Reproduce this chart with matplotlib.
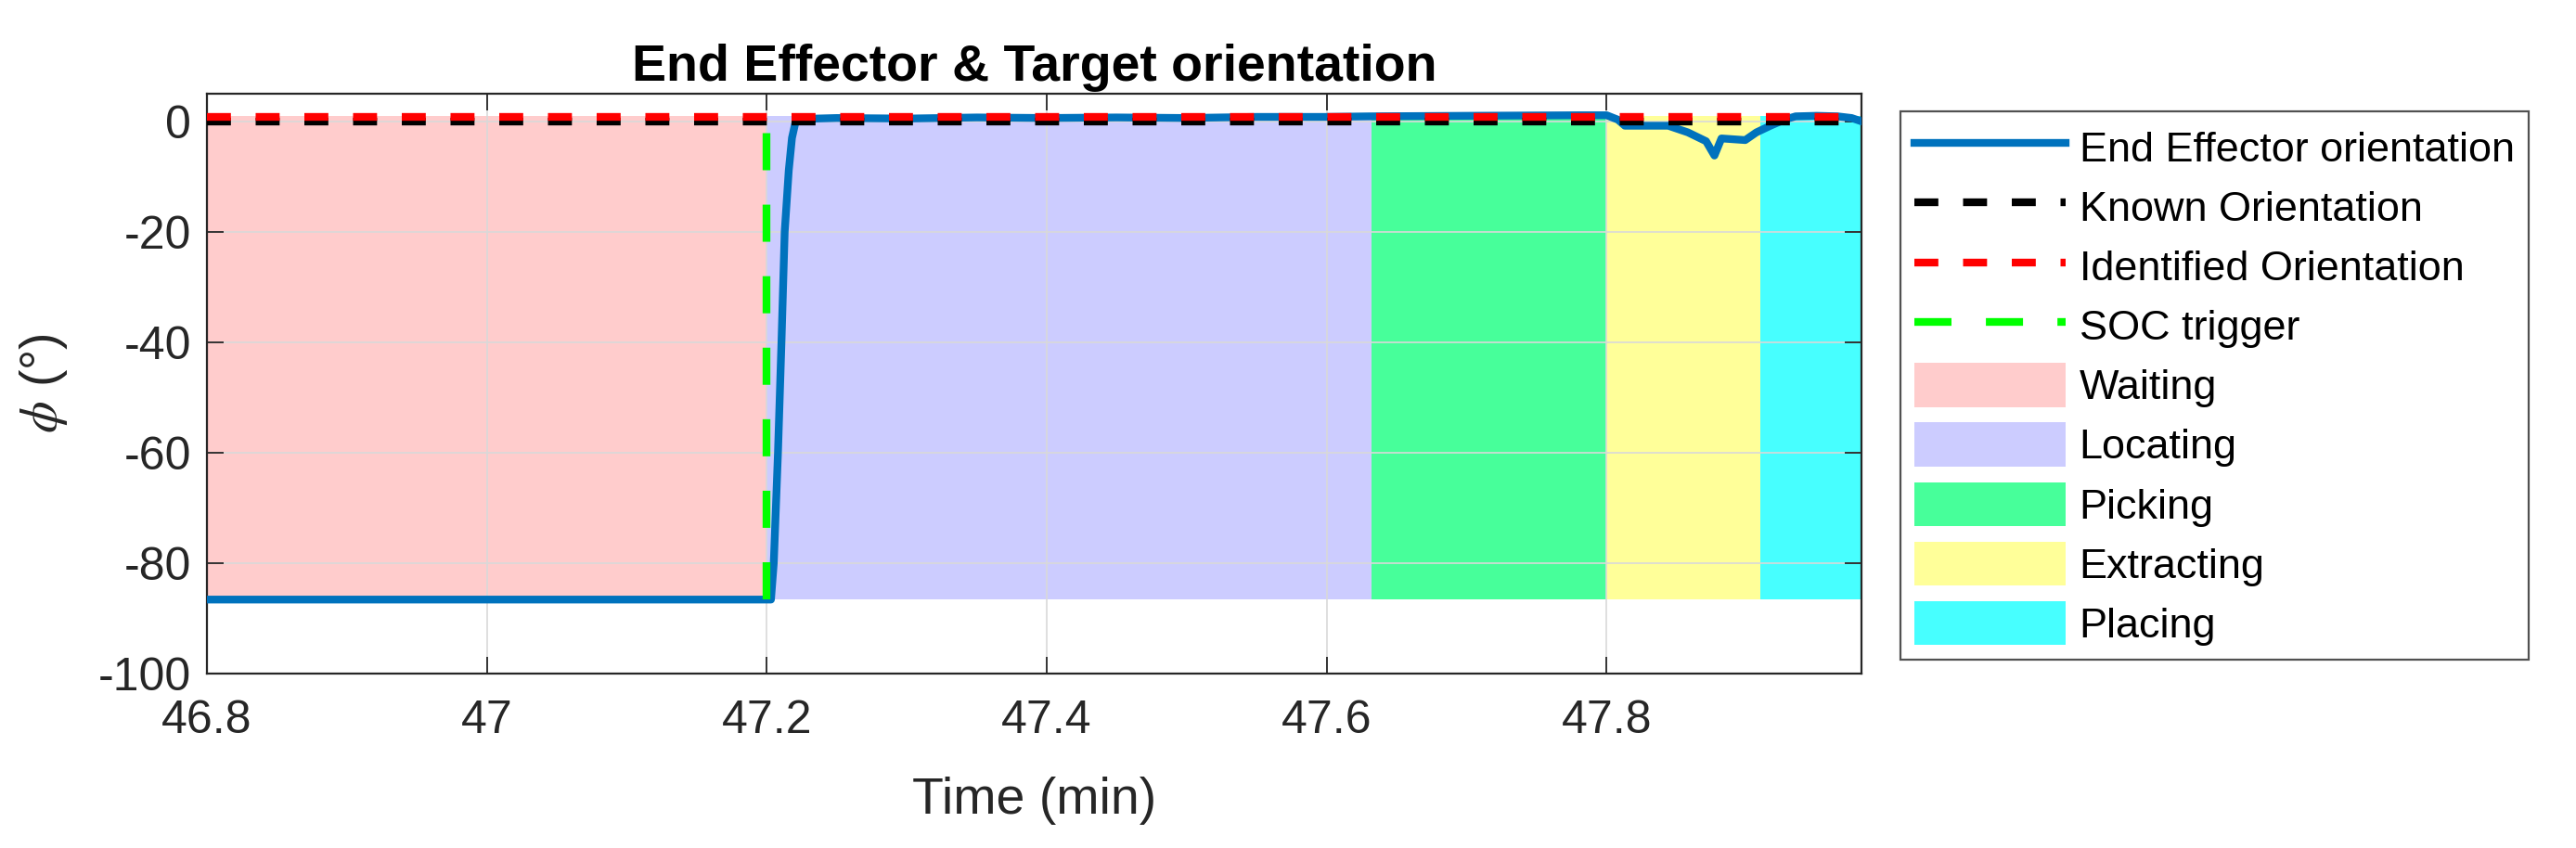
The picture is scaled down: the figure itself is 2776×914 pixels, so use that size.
import numpy as np
import matplotlib
matplotlib.use("Agg")
import matplotlib.pyplot as plt
from matplotlib.patches import Patch
from matplotlib.lines import Line2D

plt.rcParams['font.family'] = ['Liberation Sans', 'DejaVu Sans']
plt.rcParams['mathtext.fontset'] = 'stix'
plt.rcParams['axes.unicode_minus'] = False

# ---- data ----
t_ee = [46.80, 47.203, 47.205, 47.208, 47.2105, 47.2128, 47.2157, 47.218, 47.221,
        47.25, 47.30, 47.35, 47.40, 47.45, 47.50, 47.55, 47.60, 47.63, 47.70, 47.78,
        47.80, 47.808, 47.813, 47.844, 47.858, 47.871, 47.877, 47.882, 47.899, 47.907,
        47.917, 47.927, 47.935, 47.95, 47.965, 47.975, 47.982]
phi_ee = [-86.6, -86.6, -80, -60, -40, -20, -8.9, -3.0, 0.4,
          0.6, 0.5, 0.7, 0.6, 0.7, 0.6, 0.8, 0.8, 0.9, 1.0, 1.1,
          1.1, 0.3, -0.8, -0.8, -2.0, -3.6, -6.2, -3.1, -3.4, -2.0,
          -0.8, 0.3, 0.9, 1.0, 0.9, 0.6, 0.0]

t_known = [46.80, 47.982]
phi_known = [0.0, 0.0]
t_ident = [46.80, 47.982]
phi_ident = [0.85, 0.85]
t_soc = [47.2, 47.2]
phi_soc = [-86.6, 0.0]

phases = ['Waiting', 'Locating', 'Picking', 'Extracting', 'Placing']
phase_edges = [46.80, 47.20, 47.632, 47.80, 47.91, 47.982]
phase_low = -86.6
phase_high = 1.0
phase_colors = [(1, 0, 0, 0.2), (0, 0, 1, 0.2), (0, 1, 0.45, 0.72),
                (1, 1, 0, 0.4), (0, 1, 1, 0.72)]

xticks = [46.8, 47.0, 47.2, 47.4, 47.6, 47.8]
xtick_labels = ['46.8', '47', '47.2', '47.4', '47.6', '47.8']
yticks = [-100, -80, -60, -40, -20, 0]

fig = plt.figure(figsize=(27.76, 9.14), dpi=100)
ax = fig.add_axes([0.0803, 0.2057, 0.6423, 0.6838])

for i, name in enumerate(phases):
    ax.fill_between([phase_edges[i], phase_edges[i + 1]], phase_low, phase_high,
                    color=phase_colors[i], linewidth=0, zorder=1)

blue = '#0072BD'
lw = 6.0
ax.plot(t_ee, phi_ee, color=blue, lw=lw, zorder=3, solid_joinstyle='round')
ax.plot(t_known, phi_known, color='k', lw=lw, dashes=(3.1, 3.2), zorder=4)
ax.plot(t_ident, phi_ident, color='r', lw=lw, dashes=(3.1, 3.2), zorder=5)
ax.plot(t_soc, phi_soc, color='#00FF00', lw=lw, dashes=(4.8, 4.45), zorder=6)

ax.set_xlim(46.8, 47.982)
ax.set_ylim(-100, 5)
ax.set_xticks(xticks)
ax.set_xticklabels(xtick_labels)
ax.set_yticks(yticks)
ax.grid(True, color='#d9d9d9', lw=1.2)
ax.tick_params(direction='in', top=True, right=True, length=13, width=1.3,
               labelsize=36, colors='#262626')
ax.tick_params(axis='x', pad=20)
ax.tick_params(axis='y', pad=12)
for sp in ax.spines.values():
    sp.set_color('#262626')
    sp.set_linewidth(1.6)

ax.set_title('End Effector & Target orientation', fontsize=40, fontweight='bold', pad=10)
ax.set_xlabel('Time (min)', fontsize=40, color='#262626', labelpad=27)
ax.set_ylabel(r'$\phi$ (°)', fontsize=40, color='#262626', labelpad=22)

handles = [Line2D([], [], color=blue, lw=lw),
           Line2D([], [], color='k', lw=lw, dashes=(3.1, 3.2)),
           Line2D([], [], color='r', lw=lw, dashes=(3.1, 3.2)),
           Line2D([], [], color='#00FF00', lw=lw, dashes=(4.8, 4.45))]
handles += [Patch(facecolor=c, edgecolor='none') for c in phase_colors]
labels = ['End Effector orientation', 'Known Orientation', 'Identified Orientation',
          'SOC trigger'] + phases

leg = fig.legend(handles, labels, loc='upper left', bbox_to_anchor=(0.7378, 0.8687),
                 fontsize=32.4, frameon=True, fancybox=False, edgecolor='#262626',
                 handlelength=3.62, handleheight=1.25, handletextpad=0.33,
                 labelspacing=0.36, borderpad=0.33, borderaxespad=0)
leg.get_frame().set_linewidth(1.6)

fig.savefig('out.png', dpi=100)
